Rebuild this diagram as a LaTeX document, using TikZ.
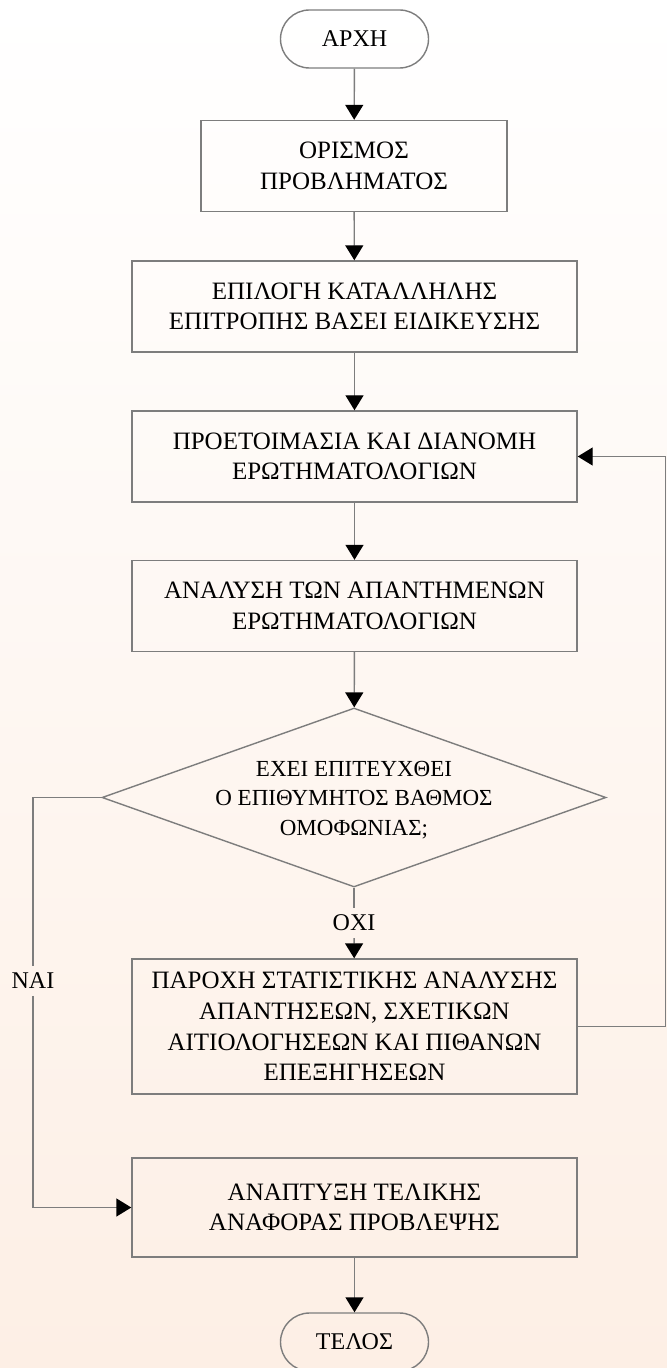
\documentclass[tikz,border=0pt]{standalone}
\usepackage{fontspec}
\setmainfont{Liberation Serif}
\usetikzlibrary{shapes.geometric,arrows.meta}
\definecolor{linegray}{RGB}{125,125,125}
\definecolor{peach}{RGB}{253,239,229}

\begin{document}
\begin{tikzpicture}[
        x=0.5pt, y=-0.5pt,
        every node/.style={font=\fontsize{12.5}{15.3}\selectfont, align=center},
        terminal/.style={draw=linegray, line width=0.7pt, rounded corners=14.5pt,
            minimum width=74pt, minimum height=29pt, inner sep=0pt,
            font=\fontsize{12}{15}\selectfont},
        stepbox/.style={draw=linegray, line width=0.7pt,
            minimum width=222.5pt, minimum height=45.5pt, inner sep=0pt},
        decision/.style={draw=linegray, line width=0.7pt, diamond,
            minimum width=252pt, minimum height=89.5pt, inner sep=0pt},
        link/.style={draw=linegray, line width=0.7pt},
        flow/.style={link, -{Triangle[width=9pt,length=7.5pt,color=black]}}
    ]
    \shade[top color=white, bottom color=peach] (0,0) rectangle (667,1368);
    \useasboundingbox (0,0) rectangle (667,1368);

    \node[terminal] (start) at (354.5,39) {ΑΡΧΗ};
    \node[stepbox, minimum width=153pt] (define) at (354,166) {ΟΡΙΣΜΟΣ\\ΠΡΟΒΛΗΜΑΤΟΣ};
    \node[stepbox] (panel) at (354.5,306.5) {ΕΠΙΛΟΓΗ ΚΑΤΑΛΛΗΛΗΣ\\ΕΠΙΤΡΟΠΗΣ ΒΑΣΕΙ ΕΙΔΙΚΕΥΣΗΣ};
    \node[stepbox] (survey) at (354.5,456.5) {ΠΡΟΕΤΟΙΜΑΣΙΑ ΚΑΙ ΔΙΑΝΟΜΗ\\ΕΡΩΤΗΜΑΤΟΛΟΓΙΩΝ};
    \node[stepbox] (analyse) at (354.5,606) {ΑΝΑΛΥΣΗ ΤΩΝ ΑΠΑΝΤΗΜΕΝΩΝ\\ΕΡΩΤΗΜΑΤΟΛΟΓΙΩΝ};
    \node[decision] (consensus) at (354,797.5) {};
    \node[font=\fontsize{11.5}{14.8}\selectfont] (question) at (354,800)
        {ΕΧΕΙ ΕΠΙΤΕΥΧΘΕΙ\\Ο ΕΠΙΘΥΜΗΤΟΣ ΒΑΘΜΟΣ\\ΟΜΟΦΩΝΙΑΣ;};
    \node[font=\fontsize{12}{15}\selectfont] (no) at (354,923) {ΟΧΙ};
    \node[stepbox, minimum height=67.5pt] (feedback) at (354.5,1026.5)
        {ΠΑΡΟΧΗ ΣΤΑΤΙΣΤΙΚΗΣ ΑΝΑΛΥΣΗΣ\\ΑΠΑΝΤΗΣΕΩΝ, ΣΧΕΤΙΚΩΝ\\ΑΙΤΙΟΛΟΓΗΣΕΩΝ ΚΑΙ ΠΙΘΑΝΩΝ\\ΕΠΕΞΗΓΗΣΕΩΝ};
    \node[font=\fontsize{12}{15}\selectfont] (yes) at (33,981) {ΝΑΙ};
    \node[stepbox, minimum height=49.5pt] (report) at (354.5,1207.5) {ΑΝΑΠΤΥΞΗ ΤΕΛΙΚΗΣ\\ΑΝΑΦΟΡΑΣ ΠΡΟΒΛΕΨΗΣ};
    \node[terminal] (stop) at (354.5,1342) {ΤΕΛΟΣ};
    \coordinate (loopright) at (665.5,1026.5);

    % main flow
    \draw[flow] (start) -- (define);
    \draw[flow] (define) -- (panel);
    \draw[flow] (panel) -- (survey);
    \draw[flow] (survey) -- (analyse);
    \draw[flow] (analyse) -- (consensus);
    \draw[link] (consensus) -- (no);
    \draw[flow] (no) -- (feedback);
    \draw[flow] (report) -- (stop);

    % branches
    \draw[flow] (feedback.east) -- (loopright) |- (survey.east);
    \draw[link] (consensus.west) -| (yes.north);
    \draw[flow] (yes.south) |- (report.west);
\end{tikzpicture}
\end{document}
